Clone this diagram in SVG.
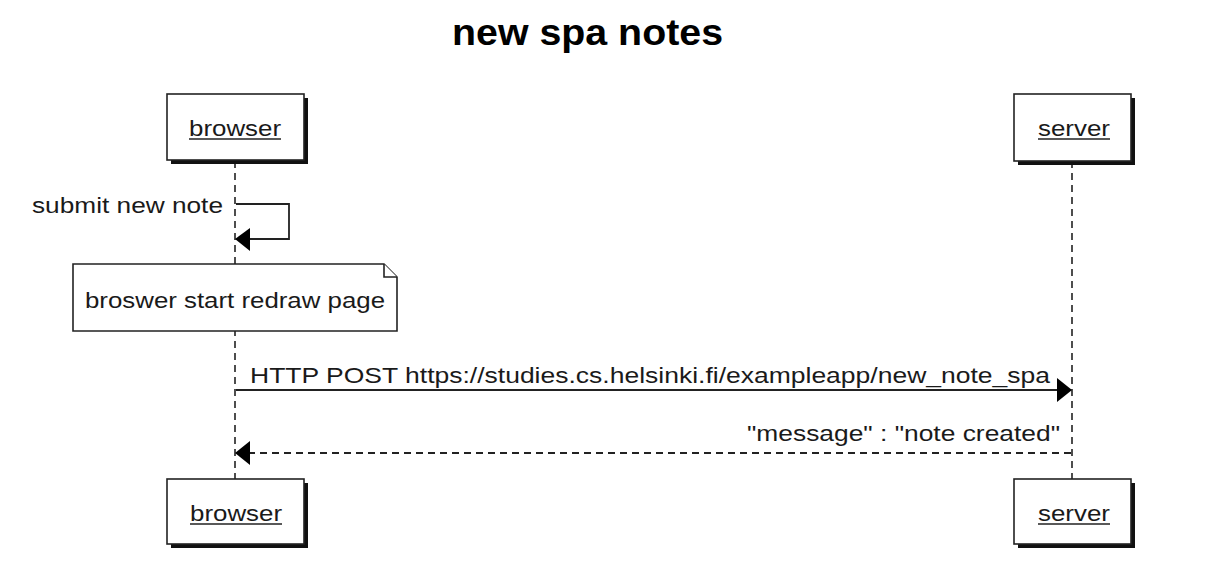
<svg xmlns="http://www.w3.org/2000/svg" width="1210" height="568" viewBox="0 0 1210 568">
<style>
text{font-family:"Liberation Sans",Arial,sans-serif;fill:#1a1a1a;}
.t{font-size:22px;}
.title{font-size:37px;font-weight:bold;fill:#000;}
.box{fill:#fff;stroke:#222;stroke-width:1.6;}
.shadow{fill:#111;}
.life{stroke:#222;stroke-width:1.6;stroke-dasharray:7,5;fill:none;}
.msg{stroke:#222;stroke-width:1.8;fill:none;}
.ret{stroke:#222;stroke-width:1.8;fill:none;stroke-dasharray:7,5;}
.ul{stroke:#222;stroke-width:1.3;}
.head{fill:#000;}
</style>
<rect width="1210" height="568" fill="#fff"/>
<text class="title" x="452" y="45" textLength="271" lengthAdjust="spacingAndGlyphs">new spa notes</text>

<g id="connectors">
  <line class="life" x1="235" y1="161" x2="235" y2="479"/>
  <line class="life" x1="1072" y1="161" x2="1072" y2="479"/>
  <g id="msg-submit">
    <polyline class="msg" points="236,204 289,204 289,239 248,239"/>
    <polygon class="head" points="235,239 250,228 250,251"/>
    <text class="t" x="32" y="213" textLength="191" lengthAdjust="spacingAndGlyphs">submit new note</text>
  </g>
  <g id="msg-post">
    <line class="msg" x1="236" y1="390" x2="1060" y2="390"/>
    <polygon class="head" points="1072,390 1057,378 1057,402"/>
    <text class="t" x="250" y="383" textLength="800" lengthAdjust="spacingAndGlyphs">HTTP POST https://studies.cs.helsinki.fi/exampleapp/new_note_spa</text>
  </g>
  <g id="msg-return">
    <line class="ret" x1="1071" y1="453" x2="248" y2="453"/>
    <polygon class="head" points="235,453 250,441 250,465"/>
    <text class="t" x="747" y="441" textLength="313" lengthAdjust="spacingAndGlyphs">"message" : "note created"</text>
  </g>
</g>

<g id="note-redraw">
  <path class="box" d="M73,264 H384 L397,277 V331 H73 Z"/>
  <path class="box" d="M384,264 V277 H397" style="fill:#fff"/>
  <text class="t" x="85" y="308" textLength="300" lengthAdjust="spacingAndGlyphs">broswer start redraw page</text>
</g>

<g id="browser-top">
  <rect class="shadow" x="171" y="98" width="137" height="66"/>
  <rect class="box" x="167" y="94" width="137" height="66"/>
  <text class="t" x="189" y="136" textLength="92" lengthAdjust="spacingAndGlyphs">browser</text>
  <line class="ul" x1="189" y1="139" x2="281" y2="139"/>
</g>
<g id="server-top">
  <rect class="shadow" x="1018" y="98" width="117" height="67"/>
  <rect class="box" x="1014" y="94" width="117" height="67"/>
  <text class="t" x="1038" y="136" textLength="72" lengthAdjust="spacingAndGlyphs">server</text>
  <line class="ul" x1="1038" y1="139" x2="1110" y2="139"/>
</g>
<g id="browser-bottom">
  <rect class="shadow" x="171" y="483" width="137" height="65"/>
  <rect class="box" x="167" y="479" width="137" height="65"/>
  <text class="t" x="190" y="521" textLength="92" lengthAdjust="spacingAndGlyphs">browser</text>
  <line class="ul" x1="190" y1="524" x2="282" y2="524"/>
</g>
<g id="server-bottom">
  <rect class="shadow" x="1018" y="483" width="117" height="65"/>
  <rect class="box" x="1014" y="479" width="117" height="65"/>
  <text class="t" x="1038" y="521" textLength="72" lengthAdjust="spacingAndGlyphs">server</text>
  <line class="ul" x1="1038" y1="524" x2="1110" y2="524"/>
</g>
</svg>
